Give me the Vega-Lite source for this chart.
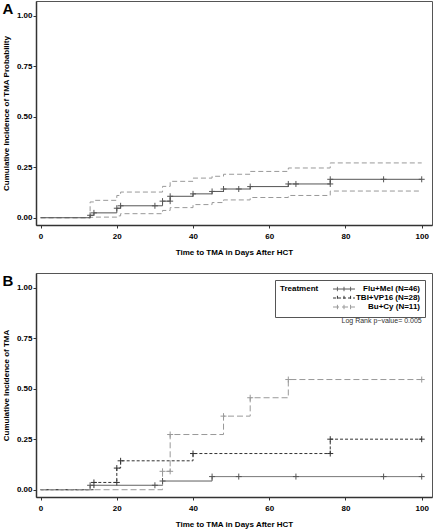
{
  "$schema": "https://vega.github.io/schema/vega-lite/v6.json",
  "padding": {"left": 1, "top": 0, "right": 0, "bottom": 0},
  "spacing": 15,
  "resolve": {"scale": {"color": "independent", "strokeDash": "independent"}, "legend": {"color": "independent", "strokeDash": "independent"}},
  "config": {
    "font": "Liberation Sans",
    "view": {"stroke": "#555", "strokeWidth": 1},
    "axis": {
      "grid": false,
      "domainColor": "#333",
      "domainWidth": 1.5,
      "tickColor": "#333",
      "tickSize": 3,
      "labelFont": "Liberation Sans",
      "labelFontSize": 8,
      "labelFontWeight": "bold",
      "labelColor": "#000",
      "titleFont": "Liberation Sans",
      "titleFontSize": 8,
      "titleFontWeight": "bold",
      "titleColor": "#000"
    }
  },
  "datasets": {
    "a": [
      {"t": 0, "v": 0, "s": "est"}, {"t": 13, "v": 0.012, "s": "est"}, {"t": 14, "v": 0.024, "s": "est"},
      {"t": 20, "v": 0.047, "s": "est"}, {"t": 21, "v": 0.059, "s": "est"}, {"t": 32, "v": 0.082, "s": "est"},
      {"t": 34, "v": 0.106, "s": "est"}, {"t": 40, "v": 0.118, "s": "est"}, {"t": 45, "v": 0.13, "s": "est"},
      {"t": 48, "v": 0.142, "s": "est"}, {"t": 55, "v": 0.154, "s": "est"}, {"t": 65, "v": 0.167, "s": "est"},
      {"t": 76, "v": 0.19, "s": "est"}, {"t": 100, "v": 0.19, "s": "est"},
      {"t": 0, "v": 0, "s": "upper"}, {"t": 13, "v": 0.078, "s": "upper"}, {"t": 14, "v": 0.086, "s": "upper"},
      {"t": 20, "v": 0.11, "s": "upper"}, {"t": 21, "v": 0.127, "s": "upper"}, {"t": 32, "v": 0.155, "s": "upper"},
      {"t": 34, "v": 0.18, "s": "upper"}, {"t": 40, "v": 0.196, "s": "upper"}, {"t": 45, "v": 0.205, "s": "upper"},
      {"t": 48, "v": 0.215, "s": "upper"}, {"t": 55, "v": 0.229, "s": "upper"}, {"t": 65, "v": 0.246, "s": "upper"},
      {"t": 76, "v": 0.271, "s": "upper"}, {"t": 100, "v": 0.271, "s": "upper"},
      {"t": 0, "v": 0, "s": "lower"}, {"t": 13, "v": 0.002, "s": "lower"}, {"t": 14, "v": 0.003, "s": "lower"},
      {"t": 20, "v": 0.009, "s": "lower"}, {"t": 21, "v": 0.02, "s": "lower"}, {"t": 32, "v": 0.036, "s": "lower"},
      {"t": 34, "v": 0.05, "s": "lower"}, {"t": 40, "v": 0.065, "s": "lower"}, {"t": 45, "v": 0.075, "s": "lower"},
      {"t": 48, "v": 0.088, "s": "lower"}, {"t": 55, "v": 0.1, "s": "lower"}, {"t": 65, "v": 0.11, "s": "lower"},
      {"t": 76, "v": 0.132, "s": "lower"}, {"t": 100, "v": 0.132, "s": "lower"}
    ],
    "acens": [
      {"t": 13, "v": 0.012}, {"t": 14, "v": 0.024}, {"t": 20, "v": 0.047}, {"t": 21, "v": 0.059},
      {"t": 30, "v": 0.059}, {"t": 32, "v": 0.082}, {"t": 34, "v": 0.082}, {"t": 34, "v": 0.106},
      {"t": 40, "v": 0.118}, {"t": 45, "v": 0.13}, {"t": 48, "v": 0.142}, {"t": 52, "v": 0.142},
      {"t": 55, "v": 0.154}, {"t": 65, "v": 0.167}, {"t": 67, "v": 0.167}, {"t": 76, "v": 0.167},
      {"t": 76, "v": 0.19}, {"t": 90, "v": 0.19}, {"t": 100, "v": 0.19}
    ],
    "b": [
      {"t": 0, "v": 0, "g": "Flu+Mel (N=46)"}, {"t": 13, "v": 0.022, "g": "Flu+Mel (N=46)"},
      {"t": 32, "v": 0.043, "g": "Flu+Mel (N=46)"}, {"t": 45, "v": 0.065, "g": "Flu+Mel (N=46)"},
      {"t": 100, "v": 0.065, "g": "Flu+Mel (N=46)"},
      {"t": 0, "v": 0, "g": "TBI+VP16 (N=28)"}, {"t": 14, "v": 0.036, "g": "TBI+VP16 (N=28)"},
      {"t": 20, "v": 0.107, "g": "TBI+VP16 (N=28)"}, {"t": 21, "v": 0.143, "g": "TBI+VP16 (N=28)"},
      {"t": 40, "v": 0.179, "g": "TBI+VP16 (N=28)"}, {"t": 76, "v": 0.25, "g": "TBI+VP16 (N=28)"},
      {"t": 100, "v": 0.25, "g": "TBI+VP16 (N=28)"},
      {"t": 0, "v": 0, "g": "Bu+Cy (N=11)"}, {"t": 32, "v": 0.091, "g": "Bu+Cy (N=11)"},
      {"t": 34, "v": 0.273, "g": "Bu+Cy (N=11)"}, {"t": 48, "v": 0.364, "g": "Bu+Cy (N=11)"},
      {"t": 55, "v": 0.455, "g": "Bu+Cy (N=11)"}, {"t": 65, "v": 0.545, "g": "Bu+Cy (N=11)"},
      {"t": 100, "v": 0.545, "g": "Bu+Cy (N=11)"}
    ],
    "bcens": [
      {"t": 13, "v": 0.022, "g": "Flu+Mel (N=46)"}, {"t": 30, "v": 0.022, "g": "Flu+Mel (N=46)"},
      {"t": 32, "v": 0.043, "g": "Flu+Mel (N=46)"}, {"t": 45, "v": 0.065, "g": "Flu+Mel (N=46)"},
      {"t": 52, "v": 0.065, "g": "Flu+Mel (N=46)"}, {"t": 67, "v": 0.065, "g": "Flu+Mel (N=46)"},
      {"t": 90, "v": 0.065, "g": "Flu+Mel (N=46)"}, {"t": 100, "v": 0.065, "g": "Flu+Mel (N=46)"},
      {"t": 14, "v": 0.036, "g": "TBI+VP16 (N=28)"}, {"t": 20, "v": 0.036, "g": "TBI+VP16 (N=28)"},
      {"t": 20, "v": 0.107, "g": "TBI+VP16 (N=28)"}, {"t": 21, "v": 0.143, "g": "TBI+VP16 (N=28)"},
      {"t": 40, "v": 0.179, "g": "TBI+VP16 (N=28)"}, {"t": 76, "v": 0.179, "g": "TBI+VP16 (N=28)"},
      {"t": 76, "v": 0.25, "g": "TBI+VP16 (N=28)"}, {"t": 100, "v": 0.25, "g": "TBI+VP16 (N=28)"},
      {"t": 32, "v": 0.091, "g": "Bu+Cy (N=11)"}, {"t": 34, "v": 0.091, "g": "Bu+Cy (N=11)"},
      {"t": 34, "v": 0.273, "g": "Bu+Cy (N=11)"}, {"t": 48, "v": 0.364, "g": "Bu+Cy (N=11)"},
      {"t": 55, "v": 0.455, "g": "Bu+Cy (N=11)"}, {"t": 65, "v": 0.545, "g": "Bu+Cy (N=11)"},
      {"t": 100, "v": 0.545, "g": "Bu+Cy (N=11)"}
    ]
  },
  "vconcat": [
    {
      "width": 396,
      "height": 224,
      "layer": [
        {
          "data": {"name": "a"},
          "transform": [{"filter": "datum.s != 'est'"}],
          "mark": {"type": "line", "interpolate": "step-after", "color": "#999", "strokeWidth": 1, "strokeDash": [5, 3]},
          "encoding": {
            "x": {"field": "t", "type": "quantitative",
              "scale": {"domain": [-1.2, 102.7], "nice": false, "zero": false},
              "axis": {"title": "Time to TMA in Days After HCT", "values": [0, 20, 40, 60, 80, 100], "labelPadding": 4, "titlePadding": 8}},
            "y": {"field": "v", "type": "quantitative",
              "scale": {"domain": [-0.036, 1.072], "nice": false, "zero": false},
              "axis": {"title": "Cumulative Incidence of TMA Probability", "values": [0, 0.25, 0.5, 0.75, 1], "format": ".2f", "labelPadding": 1, "titlePadding": 6}},
            "detail": {"field": "s"}
          }
        },
        {
          "data": {"name": "a"},
          "transform": [{"filter": "datum.s == 'est'"}],
          "mark": {"type": "line", "interpolate": "step-after", "color": "#555", "strokeWidth": 1},
          "encoding": {
            "x": {"field": "t", "type": "quantitative"},
            "y": {"field": "v", "type": "quantitative"}
          }
        },
        {
          "data": {"name": "acens"},
          "mark": {"type": "point", "shape": "M-1,0H1M0,-1V1", "size": 36, "filled": false, "color": "#555", "strokeWidth": 1, "opacity": 1},
          "encoding": {
            "x": {"field": "t", "type": "quantitative"},
            "y": {"field": "v", "type": "quantitative"}
          }
        },
        {
          "data": {"values": [{"label": "A"}]},
          "mark": {"type": "text", "fontSize": 15, "fontWeight": "bold", "align": "left", "baseline": "alphabetic", "color": "#000", "clip": false},
          "encoding": {
            "x": {"datum": -10, "type": "quantitative"},
            "y": {"datum": 1.01, "type": "quantitative"},
            "text": {"field": "label"}
          }
        }
      ]
    },
    {
      "width": 396,
      "height": 224,
      "layer": [
        {
          "data": {"name": "b"},
          "mark": {"type": "line", "interpolate": "step-after", "strokeWidth": 1},
          "encoding": {
            "x": {"field": "t", "type": "quantitative",
              "scale": {"domain": [-1.2, 102.7], "nice": false, "zero": false},
              "axis": {"title": "Time to TMA in Days After HCT", "values": [0, 20, 40, 60, 80, 100], "labelPadding": 4, "titlePadding": 8}},
            "y": {"field": "v", "type": "quantitative",
              "scale": {"domain": [-0.036, 1.072], "nice": false, "zero": false},
              "axis": {"title": "Cumulative Incidence of TMA", "values": [0, 0.25, 0.5, 0.75, 1], "format": ".2f", "labelPadding": 1, "titlePadding": 6}},
            "color": {"field": "g", "type": "nominal",
              "scale": {"domain": ["Flu+Mel (N=46)", "TBI+VP16 (N=28)", "Bu+Cy (N=11)"], "range": ["#555", "#333", "#999"]},
              "legend": {"title": "Treatment", "orient": "top-right", "offset": 7, "titleOrient": "left", "titleAnchor": "start", "titleBaseline": "top", "titleFontSize": 8, "titleFontWeight": "bold", "titleColor": "#000", "titlePadding": 21,
                "labelFontSize": 8, "labelFontWeight": "bold", "labelColor": "#000", "labelAlign": "right", "labelOffset": 72,
                "symbolType": "M-4,0H4M-2.4,-0.8V0.8M0,-0.8V0.8M2.4,-0.8V0.8", "symbolSize": 30, "symbolStrokeWidth": 1, "symbolFillColor": "transparent",
                "strokeColor": "#555", "fillColor": "white", "padding": 5, "rowPadding": -1}},
            "strokeDash": {"field": "g", "type": "nominal",
              "scale": {"domain": ["Flu+Mel (N=46)", "TBI+VP16 (N=28)", "Bu+Cy (N=11)"], "range": [[1, 0], [3, 2], [6, 3]]},
              "legend": {"title": "Treatment", "orient": "top-right", "offset": 7, "titleOrient": "left", "titleAnchor": "start", "titleBaseline": "top", "titleFontSize": 8, "titleFontWeight": "bold", "titleColor": "#000", "titlePadding": 21,
                "labelFontSize": 8, "labelFontWeight": "bold", "labelColor": "#000", "labelAlign": "right", "labelOffset": 72,
                "symbolType": "M-4,0H4M-2.4,-0.8V0.8M0,-0.8V0.8M2.4,-0.8V0.8", "symbolSize": 30, "symbolStrokeWidth": 1, "symbolFillColor": "transparent",
                "strokeColor": "#555", "fillColor": "white", "padding": 5, "rowPadding": -1}}
          }
        },
        {
          "data": {"name": "bcens"},
          "mark": {"type": "point", "shape": "M-1,0H1M0,-1V1", "size": 36, "filled": false, "strokeWidth": 1, "opacity": 1},
          "encoding": {
            "x": {"field": "t", "type": "quantitative"},
            "y": {"field": "v", "type": "quantitative"},
            "color": {"field": "g", "type": "nominal"}
          }
        },
        {
          "data": {"values": [{"label": "Log Rank p\u2212value= 0.005"}]},
          "mark": {"type": "text", "fontSize": 7, "align": "right", "baseline": "middle", "color": "#333", "clip": false},
          "encoding": {
            "x": {"datum": 100, "type": "quantitative"},
            "y": {"datum": 0.835, "type": "quantitative"},
            "text": {"field": "label"}
          }
        },
        {
          "data": {"values": [{"label": "B"}]},
          "mark": {"type": "text", "fontSize": 15, "fontWeight": "bold", "align": "left", "baseline": "alphabetic", "color": "#000", "clip": false},
          "encoding": {
            "x": {"datum": -10, "type": "quantitative"},
            "y": {"datum": 1.01, "type": "quantitative"},
            "text": {"field": "label"}
          }
        }
      ]
    }
  ]
}
